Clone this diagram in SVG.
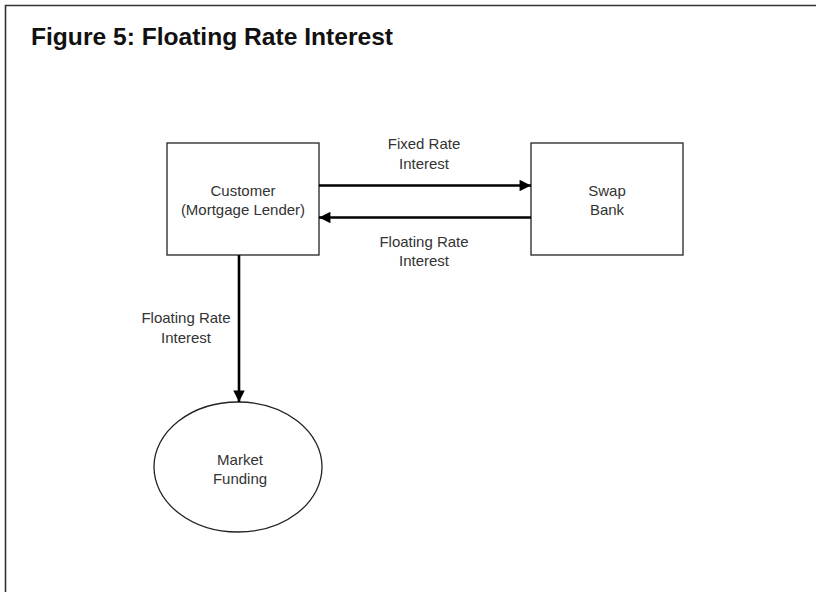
<svg xmlns="http://www.w3.org/2000/svg" width="816" height="592" viewBox="0 0 816 592">
  <style>
    .frame { stroke: #333; stroke-width: 1.6; fill: none; }
    .node { fill: #fff; stroke: #222; stroke-width: 1.3; }
    .lbl { font-family: "Liberation Sans", Arial, sans-serif; font-size: 15px; fill: #333; text-anchor: middle; }
    .title { font-family: "Liberation Sans", Arial, sans-serif; font-size: 24px; font-weight: bold; fill: #111; }
    .flow { stroke: #000; stroke-width: 2.6; fill: none; marker-end: url(#head); }
  </style>
  <defs>
    <marker id="head" viewBox="0 0 10 10" refX="10" refY="5" markerWidth="5" markerHeight="4.4" markerUnits="strokeWidth" orient="auto">
      <path d="M0,0 L10,5 L0,10 Z" fill="#000"/>
    </marker>
  </defs>

  <rect width="816" height="592" fill="#fff"/>
  <!-- figure frame: top and left rules only -->
  <path class="frame" d="M5.5,592 V5.5 H816"/>
  <text class="title" x="31" y="45" textLength="362" lengthAdjust="spacingAndGlyphs">Figure 5: Floating Rate Interest</text>

  <g id="customer">
    <rect class="node" x="167" y="143" width="152" height="112"/>
    <text class="lbl" x="243" y="196">Customer</text>
    <text class="lbl" x="243" y="215">(Mortgage Lender)</text>
  </g>

  <g id="swap-bank">
    <rect class="node" x="531" y="143" width="152" height="112"/>
    <text class="lbl" x="607" y="196">Swap</text>
    <text class="lbl" x="607" y="215">Bank</text>
  </g>

  <g id="market-funding">
    <ellipse class="node" cx="238" cy="467" rx="84" ry="65"/>
    <text class="lbl" x="240" y="465">Market</text>
    <text class="lbl" x="240" y="484">Funding</text>
  </g>

  <g id="connectors">
    <line class="flow" x1="319" y1="185.5" x2="531" y2="185.5"/>
    <text class="lbl" x="424" y="149">Fixed Rate</text>
    <text class="lbl" x="424" y="169">Interest</text>

    <line class="flow" x1="531" y1="217.5" x2="319" y2="217.5"/>
    <text class="lbl" x="424" y="247">Floating Rate</text>
    <text class="lbl" x="424" y="266">Interest</text>

    <line class="flow" x1="239" y1="255" x2="239" y2="402"/>
    <text class="lbl" x="186" y="323">Floating Rate</text>
    <text class="lbl" x="186" y="343">Interest</text>
  </g>
</svg>
